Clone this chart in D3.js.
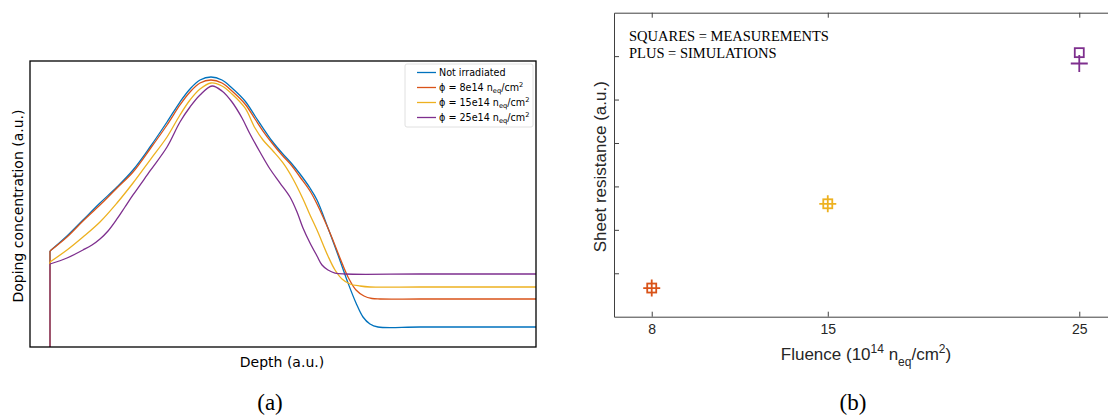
<!DOCTYPE html>
<html>
<head>
<meta charset="utf-8">
<script src="https://cdn.jsdelivr.net/npm/d3@7"></script>
<style>
  body { margin: 0; background: #fff; }
  svg { display: block; }
</style>
</head>
<body>
<svg id="fig" width="1108" height="415"></svg>
<script>
// ---- Doping profiles: [depth, concentration], both in arbitrary units ----
const notIrradiated = [
  [3.95, 0], [3.95, 33.57], [7.31, 38.81], [10.47, 44.41], [13.83, 50.35], [17.19, 55.94],
  [20.36, 61.89], [23.72, 69.93], [27.08, 78.67], [29.64, 85.66], [31.62, 90.21],
  [33.60, 93.36], [35.77, 94.41], [37.94, 93.36], [39.92, 90.56], [42.49, 86.01],
  [44.47, 80.77], [46.05, 76.57], [47.83, 72.03], [49.80, 67.83], [51.78, 63.99],
  [53.36, 60.49], [55.34, 55.59], [56.72, 51.40], [58.89, 41.61], [60.87, 32.17],
  [62.85, 22.38], [64.43, 15.38], [65.81, 10.49], [67.19, 8.04], [68.77, 6.99],
  [77.08, 6.99], [100, 6.99]
];
const phi8e14 = [
  [3.95, 0], [3.95, 33.57], [7.31, 38.46], [10.47, 44.06], [13.83, 49.65], [17.19, 55.59],
  [20.36, 61.19], [23.72, 69.23], [27.08, 77.62], [29.64, 84.62], [31.62, 89.16],
  [33.60, 92.31], [35.77, 93.36], [37.94, 92.31], [39.92, 89.51], [42.49, 84.97],
  [44.47, 79.72], [46.05, 75.52], [47.83, 71.33], [49.80, 67.13], [51.78, 63.29],
  [53.36, 59.44], [55.34, 54.55], [56.72, 50.00], [59.29, 39.86], [61.26, 31.12],
  [62.85, 24.48], [64.43, 19.93], [66.01, 17.83], [67.59, 16.96], [69.17, 16.78],
  [77.08, 16.78], [100, 16.78]
];
const phi15e14 = [
  [3.95, 0], [3.95, 29.72], [7.31, 33.92], [10.47, 38.46], [13.83, 43.71], [17.19, 50.35],
  [20.36, 57.34], [23.72, 65.38], [27.08, 73.43], [29.64, 81.12], [31.62, 86.36],
  [33.60, 90.21], [35.77, 92.31], [37.94, 91.26], [39.92, 88.46], [42.49, 83.57],
  [44.47, 76.57], [46.05, 72.38], [48.02, 68.53], [50.00, 64.34], [51.98, 58.74],
  [53.95, 51.75], [55.34, 46.15], [56.72, 40.91], [58.89, 31.82], [60.28, 26.92],
  [61.66, 23.78], [63.24, 22.03], [65.22, 21.33], [67.19, 20.98], [77.08, 20.98],
  [100, 20.98]
];
const phi25e14 = [
  [3.95, 0], [3.95, 29.02], [7.31, 31.12], [10.47, 33.92], [12.25, 35.66], [13.83, 37.76],
  [15.42, 40.56], [17.19, 44.76], [18.77, 48.95], [20.36, 53.15], [23.72, 61.54],
  [27.08, 69.93], [29.64, 78.67], [31.62, 83.92], [33.60, 88.11], [35.97, 91.26],
  [37.94, 89.51], [39.92, 85.66], [41.90, 80.07], [43.48, 74.48], [45.45, 68.18],
  [47.43, 62.24], [49.41, 57.34], [51.38, 52.45], [52.77, 47.20], [53.95, 41.61],
  [55.34, 36.36], [56.72, 31.82], [57.71, 28.67], [58.89, 26.92], [60.28, 25.87],
  [62.25, 25.52], [77.08, 25.52], [100, 25.52]
];
const profileLabels = ["Not irradiated", "8e14", "15e14", "25e14"];
const profileColors = ["#0072BD", "#D95319", "#EDB120", "#7E2F8E"];
const profiles = [notIrradiated, phi8e14, phi15e14, phi25e14];

// ---- Sheet resistance versus fluence (10^14 n_eq/cm^2), arbitrary units ----
const fluence = [8, 15, 25];
const measured = [0.66, 2.60, 6.08];
const simulated = [0.66, 2.60, 5.83];
const fluenceColors = ["#D95319", "#EDB120", "#7E2F8E"];
const fluenceTicks = [8, 15, 25];
const resistanceTicks = [1, 2, 3, 4, 5, 6];

const svg = d3.select("#fig");
svg.append("rect").attr("width", 1108).attr("height", 415).attr("fill", "#fff");

const sansA = "'DejaVu Sans', sans-serif";
const sansB = "'Liberation Sans', Arial, sans-serif";
const serif = "'Liberation Serif', 'Times New Roman', serif";

// =================== Panel (a): doping profiles ===================
const xA = d3.scaleLinear().domain([0, 100]).range([30, 536]);
const yA = d3.scaleLinear().domain([0, 100]).range([347, 61]);
const gA = svg.append("g");

const riser = d3.line().x(d => xA(d[0])).y(d => yA(d[1]));
const profileLine = d3.line().x(d => xA(d[0])).y(d => yA(d[1]))
  .curve(d3.curveCatmullRom.alpha(0.5));

profiles.forEach((pts, i) => {
  gA.append("path")
    .attr("d", riser(pts.slice(0, 2)))
    .attr("fill", "none").attr("stroke", profileColors[i]).attr("stroke-width", 1.3);
  gA.append("path")
    .attr("d", profileLine(pts.slice(1)))
    .attr("fill", "none").attr("stroke", profileColors[i]).attr("stroke-width", 1.3)
    .attr("stroke-linejoin", "round");
});

// frame
gA.append("rect")
  .attr("x", xA(0)).attr("y", yA(100))
  .attr("width", xA(100) - xA(0)).attr("height", yA(0) - yA(100))
  .attr("fill", "none").attr("stroke", "#000").attr("stroke-width", 1.3);

// legend
const legA = gA.append("g");
legA.append("rect")
  .attr("x", 405).attr("y", 64).attr("width", 128).attr("height", 63).attr("rx", 2)
  .attr("fill", "#fff").attr("fill-opacity", 0.8)
  .attr("stroke", "#e0e0e0").attr("stroke-width", 1);
profileLabels.forEach((lab, i) => {
  const cy = 72.5 + i * 15;
  legA.append("line")
    .attr("x1", 417).attr("x2", 436).attr("y1", cy).attr("y2", cy)
    .attr("stroke", profileColors[i]).attr("stroke-width", 1.3);
  const t = legA.append("text")
    .attr("x", 439).attr("y", cy + 3.5)
    .attr("font-family", sansA).attr("font-size", 9.6).attr("fill", "#000");
  if (i === 0) {
    t.text(lab);
  } else {
    t.append("tspan").text(`\u03D5 = ${lab} n`);
    t.append("tspan").attr("font-size", 6.7).attr("dy", 2).text("eq");
    t.append("tspan").attr("dy", -2).text("/cm");
    t.append("tspan").attr("font-size", 6.7).attr("dy", -3.8).text("2");
  }
});

// axis titles
gA.append("text")
  .attr("x", (xA(0) + xA(100)) / 2 - 1).attr("y", 367)
  .attr("text-anchor", "middle")
  .attr("font-family", sansA).attr("font-size", 14).attr("fill", "#000")
  .text("Depth (a.u.)");
gA.append("text")
  .attr("transform", `translate(23,${(yA(0) + yA(100)) / 2 + 2}) rotate(-90)`)
  .attr("text-anchor", "middle")
  .attr("font-family", sansA).attr("font-size", 14).attr("fill", "#000")
  .text("Doping concentration (a.u.)");

svg.append("text")
  .attr("x", 270).attr("y", 410).attr("text-anchor", "middle")
  .attr("font-family", serif).attr("font-size", 23).attr("fill", "#000")
  .text("(a)");

// =================== Panel (b): sheet resistance ===================
const xB = d3.scaleLinear().domain([6.5, 26.5]).range([614, 1117]);
const yB = d3.scaleLinear().domain([0, 7]).range([316.7, 12.7]);
const gB = svg.append("g");
const axisColor = "#404040";

const bottomAxis = gB.append("g")
  .attr("transform", `translate(0,${yB(0)})`)
  .call(d3.axisBottom(xB).tickValues(fluenceTicks).tickFormat(d3.format("d"))
    .tickSizeInner(-5).tickSizeOuter(0).tickPadding(7));
const topAxis = gB.append("g")
  .attr("transform", `translate(0,${yB(7)})`)
  .call(d3.axisTop(xB).tickValues(fluenceTicks).tickFormat("")
    .tickSizeInner(-5).tickSizeOuter(0));
const leftAxis = gB.append("g")
  .attr("transform", `translate(${xB(6.5)},0)`)
  .call(d3.axisLeft(yB).tickValues(resistanceTicks).tickFormat("")
    .tickSizeInner(-5).tickSizeOuter(0));

[bottomAxis, topAxis, leftAxis].forEach(ax => {
  ax.select(".domain").attr("stroke", axisColor).attr("stroke-width", 1);
  ax.selectAll(".tick line").attr("stroke", axisColor).attr("stroke-width", 1);
});
bottomAxis.selectAll(".tick text")
  .attr("font-family", sansB).attr("font-size", 14).attr("fill", "#262626");

// markers: squares = measurements, plus = simulations
fluence.forEach((f, i) => {
  const cx = xB(f);
  const sy = yB(measured[i]);
  gB.append("rect")
    .attr("x", cx - 4.5).attr("y", sy - 4.5).attr("width", 9).attr("height", 9)
    .attr("fill", "none").attr("stroke", fluenceColors[i]).attr("stroke-width", 1.8);
  const py = yB(simulated[i]);
  gB.append("path")
    .attr("d", `M${cx - 8.5},${py}H${cx + 8.5}M${cx},${py - 8.5}V${py + 8.5}`)
    .attr("fill", "none").attr("stroke", fluenceColors[i]).attr("stroke-width", 1.8);
});

// annotation
gB.append("text")
  .attr("x", 629).attr("y", 41)
  .attr("font-family", serif).attr("font-size", 14.5).attr("fill", "#000")
  .text("SQUARES = MEASUREMENTS");
gB.append("text")
  .attr("x", 629).attr("y", 57.5)
  .attr("font-family", serif).attr("font-size", 14.5).attr("fill", "#000")
  .text("PLUS = SIMULATIONS");

// axis titles
const xTitle = gB.append("text")
  .attr("x", 866).attr("y", 360).attr("text-anchor", "middle")
  .attr("font-family", sansB).attr("font-size", 17).attr("fill", "#262626");
xTitle.append("tspan").text("Fluence (10");
xTitle.append("tspan").attr("font-size", 12).attr("dy", -7).text("14");
xTitle.append("tspan").attr("dy", 7).text(" n");
xTitle.append("tspan").attr("font-size", 12).attr("dy", 6).text("eq");
xTitle.append("tspan").attr("dy", -6).text("/cm");
xTitle.append("tspan").attr("font-size", 12).attr("dy", -7).text("2");
xTitle.append("tspan").attr("dy", 7).text(")");

gB.append("text")
  .attr("transform", `translate(606,${(yB(0) + yB(7)) / 2 + 2}) rotate(-90)`)
  .attr("text-anchor", "middle")
  .attr("font-family", sansB).attr("font-size", 17).attr("fill", "#262626")
  .text("Sheet resistance (a.u.)");

svg.append("text")
  .attr("x", 853).attr("y", 410).attr("text-anchor", "middle")
  .attr("font-family", serif).attr("font-size", 23).attr("fill", "#000")
  .text("(b)");
</script>
</body>
</html>
